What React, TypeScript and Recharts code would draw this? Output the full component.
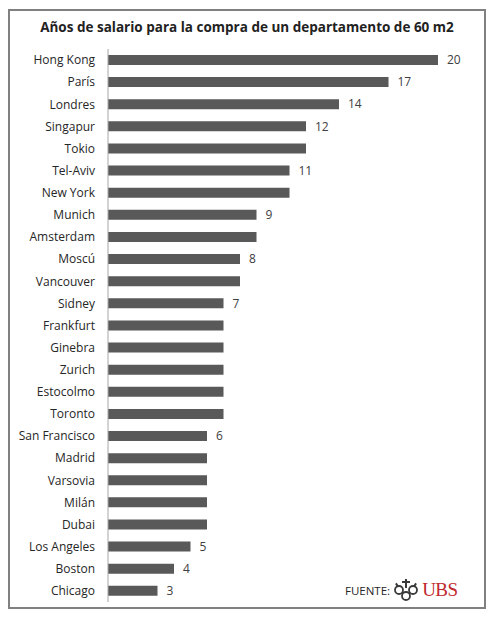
import React from 'react'
import { BarChart, Bar, XAxis, YAxis, LabelList } from 'recharts'

const cities = [
  'Hong Kong', 'París', 'Londres', 'Singapur', 'Tokio', 'Tel-Aviv', 'New York',
  'Munich', 'Amsterdam', 'Moscú', 'Vancouver', 'Sidney', 'Frankfurt', 'Ginebra',
  'Zurich', 'Estocolmo', 'Toronto', 'San Francisco', 'Madrid', 'Varsovia',
  'Milán', 'Dubai', 'Los Angeles', 'Boston', 'Chicago',
]

const years = [20, 17, 14, 12, 12, 11, 11, 9, 9, 8, 8, 7, 7, 7, 7, 7, 7, 6, 6, 6, 6, 6, 5, 4, 3]

// only the first bar of each value group carries a label
const shownLabels = [
  '20', '17', '14', '12', '', '11', '', '9', '', '8', '', '7', '', '', '', '', '',
  '6', '', '', '', '', '5', '4', '3',
]

const data = cities.map((city, i) => ({ city, years: years[i], label: shownLabels[i] }))

const FONT = '"Open Sans", "DejaVu Sans", sans-serif'

function UbsLogo() {
  return (
    <svg width="26" height="24" viewBox="0 0 26 24">
      <g fill="#3a3a3a">
        <rect x="12" y="1" width="2" height="9" />
        <rect x="9" y="3" width="8" height="2" />
        <circle cx="6" cy="12" r="4" fill="none" stroke="#3a3a3a" strokeWidth="1.8" />
        <circle cx="20" cy="12" r="4" fill="none" stroke="#3a3a3a" strokeWidth="1.8" />
        <circle cx="13" cy="18" r="4" fill="none" stroke="#3a3a3a" strokeWidth="1.8" />
        <rect x="3" y="5" width="2" height="4" transform="rotate(-35 4 7)" />
        <rect x="21" y="5" width="2" height="4" transform="rotate(35 22 7)" />
      </g>
    </svg>
  )
}

export default function App() {
  return (
    <div
      style={{
        position: 'relative',
        width: 499,
        height: 622,
        margin: -8,
        background: '#fff',
        fontFamily: FONT,
      }}
    >
      {/* outer light frame */}
      <div
        style={{
          position: 'absolute',
          left: 2,
          top: 2,
          width: 491,
          height: 613,
          border: '1px solid #c8c8c8',
          boxShadow: '2px 2px 3px rgba(0,0,0,0.25)',
        }}
      />
      {/* inner dark frame */}
      <div
        style={{
          position: 'absolute',
          left: 8,
          top: 9,
          width: 474,
          height: 596,
          border: '2px solid #808080',
        }}
      />
      <div
        style={{
          position: 'absolute',
          left: 0,
          top: 18,
          width: 494,
          textAlign: 'center',
          fontWeight: 700,
          fontSize: 13.5,
          color: '#222',
        }}
      >
        Años de salario para la compra de un departamento de 60 m2
      </div>
      <div style={{ position: 'absolute', left: 0, top: 0 }}>
        <BarChart
          width={499}
          height={622}
          data={data}
          layout="vertical"
          margin={{ top: 49, right: 61, bottom: 20, left: 8 }}
          barCategoryGap="27%"
        >
          <XAxis type="number" domain={[0, 20]} hide />
          <YAxis
            type="category"
            dataKey="city"
            width={100}
            tickLine={false}
            tickSize={0}
            tickMargin={13}
            axisLine={{ stroke: '#a6a6a6' }}
            tick={{ fill: '#262626', fontSize: 12, fontFamily: FONT }}
            interval={0}
          />
          <Bar dataKey="years" fill="#595959" isAnimationActive={false}>
            <LabelList
              dataKey="label"
              position="right"
              offset={9}
              style={{ fill: '#404040', fontSize: 12, fontFamily: FONT }}
            />
          </Bar>
        </BarChart>
      </div>
      <div
        style={{
          position: 'absolute',
          left: 345,
          top: 578,
          display: 'flex',
          alignItems: 'center',
          gap: 3,
        }}
      >
        <span style={{ fontSize: 11.5, color: '#262626' }}>FUENTE:</span>
        <UbsLogo />
        <span
          style={{
            fontFamily: '"Liberation Serif", serif',
            fontSize: 19,
            color: '#c1272d',
            letterSpacing: -0.5,
          }}
        >
          UBS
        </span>
      </div>
    </div>
  )
}
